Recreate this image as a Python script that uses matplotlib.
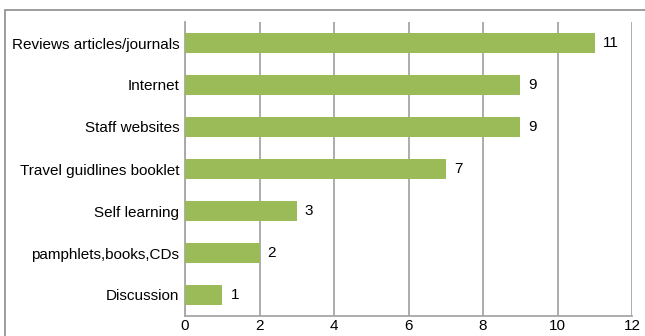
import matplotlib
matplotlib.use("Agg")
import matplotlib.pyplot as plt
from matplotlib.patches import Rectangle

categories = ["Reviews articles/journals", "Internet", "Staff websites",
              "Travel guidlines booklet", "Self learning",
              "pamphlets,books,CDs", "Discussion"]
values = [11, 9, 9, 7, 3, 2, 1]
xticks = [0, 2, 4, 6, 8, 10, 12]

plt.rcParams["font.family"] = ["Liberation Sans", "DejaVu Sans"]
plt.rcParams["font.size"] = 11

fig = plt.figure(figsize=(6.45, 3.36), dpi=100)
ax = fig.add_axes([185 / 645, 20 / 336, 447 / 645, 294 / 336])

# outer chart border (cropped at right and bottom in the original)
fig.patches.append(Rectangle((5 / 645, -0.1), 1.0, (336 - 10) / 336 + 0.1,
                             transform=fig.transFigure, fill=False,
                             edgecolor="#8c8c8c", linewidth=1.2))

pos = list(range(len(categories)))
ax.barh(pos, values, height=0.48, color="#9BBB59", zorder=3)
for p, v in zip(pos, values):
    ax.text(v + 0.22, p, str(v), va="center", ha="left", fontsize=11)

ax.set_ylim(len(categories) - 0.5, -0.5)
ax.set_xlim(0, 12)
ax.set_xticks(xticks)
ax.set_yticks(pos)
ax.set_yticklabels(categories)
ax.tick_params(axis="y", length=0, pad=4)
ax.tick_params(axis="x", length=0, pad=2)
ax.grid(axis="x", color="#a6a6a6", linewidth=1.3, zorder=0)

for s in ["top", "right"]:
    ax.spines[s].set_visible(False)
for s in ["left", "bottom"]:
    ax.spines[s].set_color("#a6a6a6")
    ax.spines[s].set_linewidth(1.3)

fig.savefig("out.png", dpi=100)
